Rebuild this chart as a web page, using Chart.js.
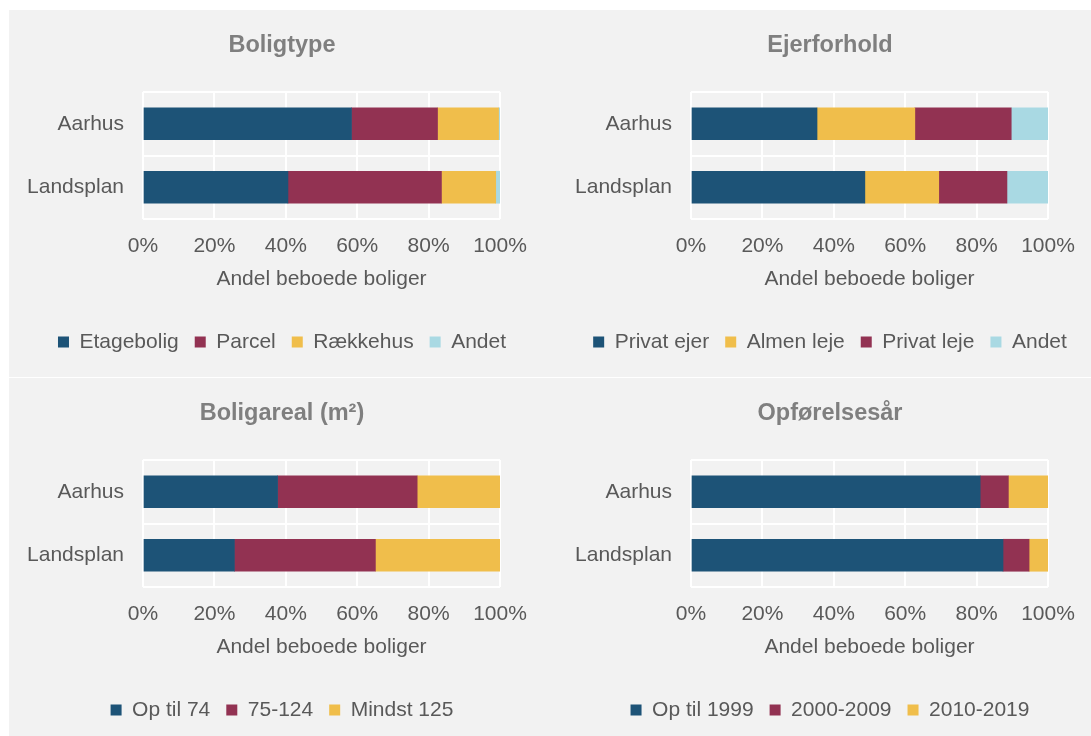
<!DOCTYPE html>
<html>
<head>
<meta charset="utf-8">
<script src="https://cdn.jsdelivr.net/npm/chart.js@4.4.1/dist/chart.umd.min.js"></script>
<style>
  html, body { margin: 0; padding: 0; background: #ffffff; width: 1091px; height: 736px; overflow: hidden; position: relative; }
  #bg { position: absolute; left: 9px; top: 10px; width: 1082px; height: 726px; background: #f2f2f2; }
  #sep { position: absolute; left: 9px; top: 377px; width: 1082px; height: 1px; background: #ffffff; }
  .panel { position: absolute; width: 546px; height: 367px; }
</style>
</head>
<body>
<div id="bg"></div>
<div id="sep"></div>
<div class="panel" style="left:9px;top:10px;"><canvas id="c1" width="546" height="367"></canvas></div>
<div class="panel" style="left:557px;top:10px;"><canvas id="c2" width="546" height="367"></canvas></div>
<div class="panel" style="left:9px;top:378px;"><canvas id="c3" width="546" height="367"></canvas></div>
<div class="panel" style="left:557px;top:378px;"><canvas id="c4" width="546" height="367"></canvas></div>
<script>
// ---- Data ----
const categories = ['Aarhus', 'Landsplan'];
const xTicks = [0, 20, 40, 60, 80, 100];
const xAxisTitle = 'Andel beboede boliger';

// Boligtype
const boligtypeTitle = 'Boligtype';
const boligtypeLabels = ['Etagebolig', 'Parcel', 'Rækkehus', 'Andet'];
const etagebolig = [58.4, 40.6];
const parcel = [24.1, 43.0];
const raekkehus = [17.1, 15.2];
const andetBolig = [0.4, 1.2];

// Ejerforhold
const ejerTitle = 'Ejerforhold';
const ejerLabels = ['Privat ejer', 'Almen leje', 'Privat leje', 'Andet'];
const privatEjer = [35.3, 48.7];
const almenLeje = [27.4, 20.7];
const privatLeje = [27.0, 19.1];
const andetEjer = [10.3, 11.5];

// Boligareal
const arealTitle = 'Boligareal (m²)';
const arealLabels = ['Op til 74', '75-124', 'Mindst 125'];
const opTil74 = [37.7, 25.6];
const m75til124 = [39.1, 39.5];
const mindst125 = [23.2, 34.9];

// Opførelsesår
const aarTitle = 'Opførelsesår';
const aarLabels = ['Op til 1999', '2000-2009', '2010-2019'];
const opTil1999 = [81.0, 87.4];
const aar2000til2009 = [7.9, 7.3];
const aar2010til2019 = [11.1, 5.3];

// ---- Styles ----
const BLUE = '#1d5377', MAROON = '#923252', YELLOW = '#f0be4b', LIGHT = '#a9d9e3';
const TEXT = '#595959', TITLE = '#7f7f7f';
Chart.defaults.font.family = "'Liberation Sans', Arial, Helvetica, sans-serif";
Chart.defaults.animation = false;

function makeChart(id, title, labels, series, colors) {
  const datasets = series.map((d, i) => ({
    label: labels[i], data: d, backgroundColor: colors[i], borderWidth: 0, barThickness: 32
  }));
  new Chart(document.getElementById(id), {
    type: 'bar',
    data: { labels: categories, datasets },
    options: {
      responsive: false,
      indexAxis: 'y',
      layout: { padding: { left: 0, right: 0, top: 0, bottom: 14.5 } },
      scales: {
        x: {
          stacked: true, min: 0, max: 100,
          afterBuildTicks: (s) => { s.ticks = xTicks.map(v => ({ value: v })); },
          afterFit: (s) => { s.height = 96.5; },
          grid: { color: '#ffffff', lineWidth: 2, drawTicks: false },
          border: { display: false },
          ticks: { padding: 14.4, color: TEXT, font: { size: 21 }, callback: (v) => v + '%' },
          title: { display: true, text: xAxisTitle, color: TEXT, font: { size: 21 }, padding: { top: 0, bottom: 23.9 } }
        },
        y: {
          stacked: true,
          afterFit: (s) => { s.width = 134; },
          grid: { color: '#ffffff', lineWidth: 2, drawTicks: false, offset: true },
          border: { display: false },
          ticks: { padding: 19, color: TEXT, font: { size: 21 } }
        },
        yr: {
          type: 'linear', position: 'right', display: true,
          afterFit: (s) => { s.width = 55; },
          grid: { display: false, drawTicks: false },
          border: { display: false },
          ticks: { display: false }
        }
      },
      plugins: {
        title: {
          display: true, text: title, color: TITLE,
          font: { size: 23.5, weight: 'bold' },
          padding: { top: 21.9, bottom: 31.9 }
        },
        legend: {
          position: 'bottom',
          labels: { boxWidth: 11, boxHeight: 11, padding: 16, color: TEXT, font: { size: 21 } }
        },
        tooltip: { enabled: false }
      }
    }
  });
}

makeChart('c1', boligtypeTitle, boligtypeLabels, [etagebolig, parcel, raekkehus, andetBolig], [BLUE, MAROON, YELLOW, LIGHT]);
makeChart('c2', ejerTitle, ejerLabels, [privatEjer, almenLeje, privatLeje, andetEjer], [BLUE, YELLOW, MAROON, LIGHT]);
makeChart('c3', arealTitle, arealLabels, [opTil74, m75til124, mindst125], [BLUE, MAROON, YELLOW]);
makeChart('c4', aarTitle, aarLabels, [opTil1999, aar2000til2009, aar2010til2019], [BLUE, MAROON, YELLOW]);
</script>
</body>
</html>
